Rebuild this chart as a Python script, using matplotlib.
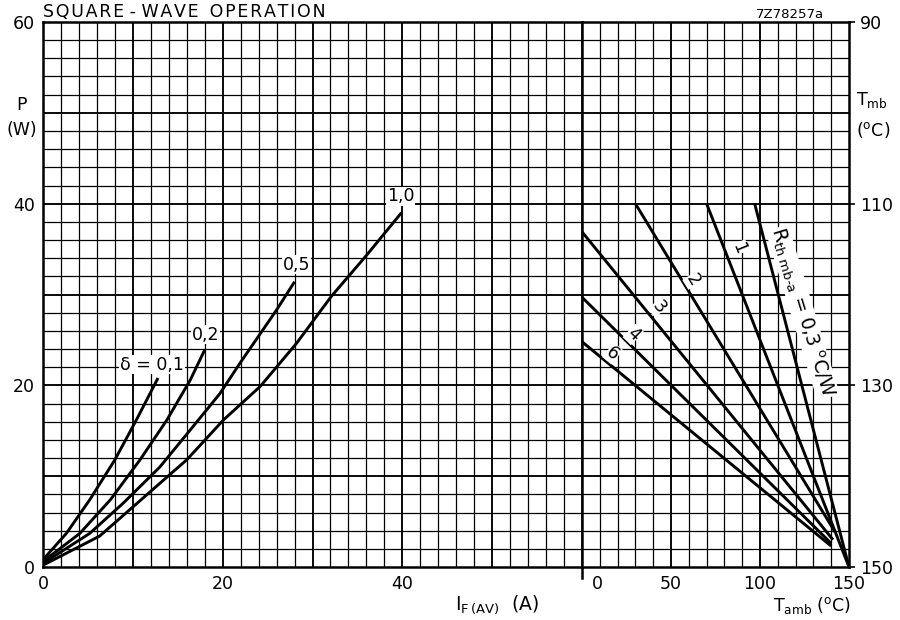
import numpy as np
import matplotlib.pyplot as plt
from matplotlib.transforms import ScaledTranslation

plt.rcParams['font.family'] = ['DejaVu Sans']
plt.rcParams['mathtext.fontset'] = 'dejavusans'

# left panel: dissipation P (W) vs average forward current I_F(AV) (A)
i_d01 = [0, 2.6, 5.2, 8.0, 10.4, 12.8]
p_d01 = [0.8, 3.7, 7.4, 11.8, 16.2, 20.8]
i_d02 = [0, 4.1, 7.5, 10.8, 13.8, 16.4, 18.0]
p_d02 = [0.6, 3.7, 7.4, 11.8, 16.2, 20.6, 23.9]
i_d05 = [0, 5.2, 8.9, 13.0, 16.4, 19.7, 21.9, 26.0, 28.0]
p_d05 = [0.4, 3.7, 7.0, 11.0, 15.1, 19.1, 22.4, 28.3, 31.4]
i_d10 = [0, 6.3, 12.3, 16.0, 20.1, 24.2, 28.2, 32.1, 36.0, 39.9]
p_d10 = [0.2, 3.4, 8.6, 11.8, 16.2, 19.9, 24.6, 29.8, 34.3, 39.0]
duty_labels = ["\u03b4 = 0,1", "0,2", "0,5", "1,0"]

# right panel: P (W) vs ambient temperature for R_th mb-a
t_r03 = [97, 150]; p_r03 = [40, 0]
t_r1 = [70, 150]; p_r1 = [40, 0]
t_r2 = [30, 142]; p_r2 = [40, 3.9]
t_r3 = [0, 141]; p_r3 = [36.9, 3.0]
t_r4 = [0, 140]; p_r4 = [29.7, 2.6]
t_r6 = [0, 140]; p_r6 = [24.8, 2.3]
rth_labels = ["1", "2", "3", "4", "6"]

y_ticks = [0, 20, 40, 60]
tmb_ticks = ["150", "130", "110", "90"]
i_ticks = [0, 20, 40]
t_ticks = [0, 50, 100, 150]

fig = plt.figure(figsize=(9, 6.2), dpi=100)
x0, x1, x2 = 43 / 900, 582 / 900, 849 / 900
yb, yt = 53 / 620, 598 / 620
axl = fig.add_axes([x0, yb, x1 - x0, yt - yb])
axr = fig.add_axes([x1, yb, x2 - x1, yt - yb])

for ax, xmax, step, major in [(axl, 60, 2, 10), (axr, 150, 10, 50)]:
    ax.set_xlim(0, xmax)
    ax.set_ylim(0, 60)
    for xv in np.arange(step, xmax, step):
        lw = 1.35 if xv % major == 0 else 0.9
        ax.axvline(xv, color='black', lw=lw, zorder=1)
    for yv in np.arange(2, 60, 2):
        lw = 1.35 if yv % 10 == 0 else 0.9
        ax.axhline(yv, color='black', lw=lw, zorder=1)
    for s in ax.spines.values():
        s.set_linewidth(1.8)
    ax.tick_params(length=0, labelsize=12.5, pad=6)

curve_kw = dict(color='black', lw=2.1, zorder=3, solid_capstyle='butt')

# left curves
axl.plot(i_d01, p_d01, **curve_kw)
axl.plot(i_d02, p_d02, **curve_kw)
axl.plot(i_d05, p_d05, **curve_kw)
axl.plot(i_d10, p_d10, **curve_kw)
lab_kw = dict(fontsize=12.5, ha='center', va='bottom', zorder=4,
              bbox=dict(facecolor='white', edgecolor='none', pad=0.6))
axl.text(i_d01[-1] - 0.7, p_d01[-1] + 0.5, duty_labels[0], **lab_kw)
axl.text(i_d02[-1] + 0.1, p_d02[-1] + 0.7, duty_labels[1], **lab_kw)
axl.text(i_d05[-1] + 0.2, p_d05[-1] + 0.9, duty_labels[2], **lab_kw)
axl.text(i_d10[-1] - 0.1, p_d10[-1] + 0.8, duty_labels[3], **lab_kw)

axl.set_yticks(y_ticks)
axl.set_xticks(i_ticks)
axl.set_xticklabels([str(v) for v in i_ticks])

# right lines
for tt, pp in [(t_r03, p_r03), (t_r1, p_r1), (t_r2, p_r2), (t_r3, p_r3), (t_r4, p_r4), (t_r6, p_r6)]:
    axr.plot(tt, pp, **curve_kw)

rlab_kw = dict(fontsize=12.5, ha='center', va='center', zorder=4,
               bbox=dict(facecolor='white', edgecolor='none', pad=0.3))
axr.text(88, 35.1, rth_labels[0], rotation=-68, rotation_mode='anchor', **rlab_kw)
axr.text(62.5, 31.6, rth_labels[1], rotation=-58, rotation_mode='anchor', **rlab_kw)
axr.text(43, 28.6, rth_labels[2], rotation=-51, rotation_mode='anchor', **rlab_kw)
axr.text(28.8, 25.6, rth_labels[3], rotation=-44, rotation_mode='anchor', **rlab_kw)
axr.text(17.2, 23.5, rth_labels[4], rotation=-39, rotation_mode='anchor', **rlab_kw)
axr.text(124.0, 28.0, r"R$_{\rm th\ mb\text{-}a}$ = 0,3 $^{\rm o}$C/W", rotation=-73,
         rotation_mode='anchor', fontsize=13.5, ha='center', va='center', zorder=4,
         bbox=dict(facecolor='white', edgecolor='none', pad=0.3))

axr.set_xticks(t_ticks)
axr.set_xticklabels([str(v) for v in t_ticks])
axr.set_yticks([])
zero_lab = axr.get_xticklabels()[0]
zero_lab.set_transform(zero_lab.get_transform() + ScaledTranslation(0.15, 0, fig.dpi_scale_trans))

axt = axr.twinx()
axt.set_ylim(0, 60)
axt.set_yticks(y_ticks)
axt.set_yticklabels(tmb_ticks)
axt.tick_params(length=4, width=1.2, labelsize=12.5, pad=4)
for s in axt.spines.values():
    s.set_visible(False)

# divider tick below axis
axl.plot([60, 60], [0, -1.2], color='black', lw=1.8, clip_on=False)

# texts
title = "\u200a".join("SQUARE") + " - " + "\u200a".join("WAVE") + "  " + "\u200a".join("OPERATION")
fig.text(43 / 900, 1 - 12 / 620, title, fontsize=12.5, ha='left', va='center')
fig.text(790 / 900, 1 - 15 / 620, "7Z78257a", fontsize=9.5, ha='center', va='center')
fig.text(22 / 900, 1 - 105 / 620, "P", fontsize=12.5, ha='center', va='center')
fig.text(22 / 900, 1 - 130 / 620, "(W)", fontsize=12.5, ha='center', va='center')
fig.text(872 / 900, 1 - 100 / 620, r"T$_{\rm mb}$", fontsize=12.5, ha='center', va='center')
fig.text(873 / 900, 1 - 130 / 620, r"($^{\rm o}$C)", fontsize=12.5, ha='center', va='center')
fig.text(497 / 900, 1 - 605 / 620, r"I$_{\rm F\,(AV)}$  (A)", fontsize=13.5, ha='center', va='center')
fig.text(812 / 900, 1 - 605 / 620, r"T$_{\rm amb}$ ($^{\rm o}$C)", fontsize=12.5, ha='center', va='center')

fig.savefig("out.png", dpi=100)
